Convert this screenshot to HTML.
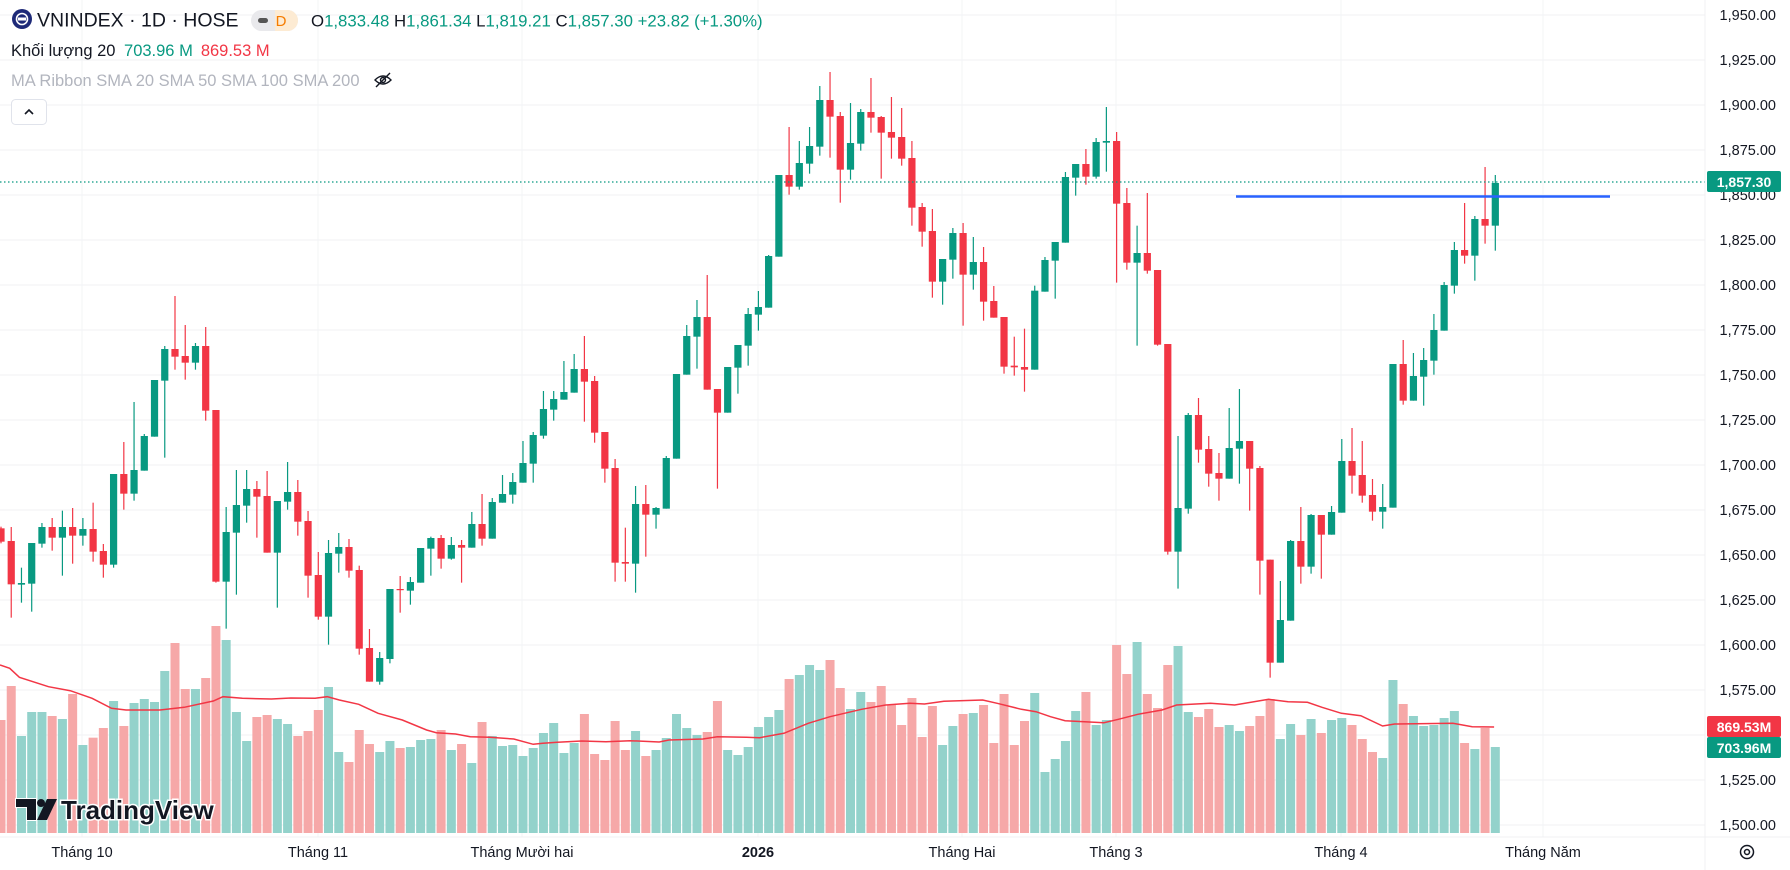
<!DOCTYPE html>
<html><head><meta charset="utf-8">
<style>
html,body{margin:0;padding:0;background:#fff;width:1790px;height:870px;overflow:hidden;font-family:"Liberation Sans","DejaVu Sans",sans-serif}
svg{display:block}
text{font-family:"Liberation Sans","DejaVu Sans",sans-serif}
</style></head><body>
<svg id="c" width="1790" height="870" viewBox="0 0 1790 870" xmlns="http://www.w3.org/2000/svg">
<g id="grid"></g>
<g id="vol"></g>
<polyline id="ma" fill="none" stroke="#f23645" stroke-width="1.5" points=""/>
<g id="cndl"></g>
<line x1="0" y1="182" x2="1705" y2="182" stroke="#089981" stroke-width="1.2" stroke-dasharray="1.5,2.5"/>
<line x1="1236" y1="196.5" x2="1610" y2="196.5" stroke="#2962ff" stroke-width="2.6"/>
<g id="axis"></g>
<!-- header -->
<circle cx="22" cy="19" r="10" fill="#1e2a78"/>
<circle cx="22" cy="19" r="5.5" fill="none" stroke="#fff" stroke-width="1.6"/>
<rect x="18" y="17.5" width="8" height="3" fill="#fff"/>
<text x="37" y="26.5" font-size="19.5" fill="#131722">VNINDEX · 1D · HOSE</text>
<rect x="251" y="10" width="47" height="21" rx="10.5" fill="#e9e9ec"/>
<path d="M275 10 h12.5 a10.5 10.5 0 0 1 0 21 h-12.5z" fill="#fdebd3"/>
<rect x="258" y="18" width="10" height="5" rx="2.5" fill="#555"/>
<text x="281" y="26" font-size="15" fill="#f57c00" text-anchor="middle">D</text>
<text x="311" y="26.5" font-size="16.8" fill="#131722">O<tspan fill="#089981">1,833.48</tspan> H<tspan fill="#089981">1,861.34</tspan> L<tspan fill="#089981">1,819.21</tspan> C<tspan fill="#089981">1,857.30</tspan> <tspan fill="#089981">+23.82 (+1.30%)</tspan></text>
<text x="11" y="56" font-size="16.5" fill="#131722">Khối lượng 20 <tspan fill="#089981" dx="4">703.96 M</tspan><tspan fill="#f23645" dx="8">869.53 M</tspan></text>
<text x="11" y="86" font-size="16.5" fill="#b2b5be">MA Ribbon SMA 20 SMA 50 SMA 100 SMA 200</text>
<g transform="translate(383,80)" stroke="#131722" stroke-width="1.4" fill="none">
<path d="M-8 0 Q0 -8 8 0 Q0 8 -8 0z"/><circle cx="0" cy="0" r="2.5"/><line x1="-7" y1="7" x2="7" y2="-7"/></g>
<rect x="11.5" y="99.5" width="35" height="25" rx="4" fill="#fff" stroke="#e0e3eb"/>
<path d="M25 114 l4 -4 l4 4" fill="none" stroke="#131722" stroke-width="1.6"/>
<!-- watermark -->
<g>
<path d="M16 799 h20 v21 h-9 v-13 h-11z" fill="#131722" stroke="#fff" stroke-width="2" paint-order="stroke"/>
<circle cx="41" cy="803" r="4" fill="#131722"/>
<path d="M47 799 h10 l-10 21 h-10z" fill="#131722"/>
<text x="61" y="819" font-size="26" font-weight="bold" fill="#131722" stroke="#fff" stroke-width="3" paint-order="stroke">TradingView</text>
</g>
</svg>
<script>
(function(){
var NS="http://www.w3.org/2000/svg";
function el(p,t,a,txt){var e=document.createElementNS(NS,t);for(var k in a)e.setAttribute(k,a[k]);if(txt!=null)e.textContent=txt;p.appendChild(e);return e;}
function Y(p){return 285+(1800-p)*1.8;}
var grid=document.getElementById('grid'),axis=document.getElementById('axis');
for(var p=1500;p<=1950;p+=25){var y=Y(p);el(grid,'line',{x1:0,y1:y,x2:1705,y2:y,stroke:'#f0f1f3','stroke-width':1});
 el(axis,'text',{x:1776,y:y+5,'font-size':14.5,fill:'#131722','text-anchor':'end'},p.toLocaleString('en-US')+'.00');}
var vx=[82,318,522,758,962,1116,1341,1543];
vx.forEach(function(x){el(grid,'line',{x1:x,y1:0,x2:x,y2:837,stroke:'#f3f4f6','stroke-width':1});});
var labs=['Tháng 10','Tháng 11','Tháng Mười hai','2026','Tháng Hai','Tháng 3','Tháng 4','Tháng Năm'];
labs.forEach(function(l,i){el(axis,'text',{x:vx[i],y:857,'font-size':14.5,fill:'#131722','text-anchor':'middle','font-weight':l=='2026'?'bold':'normal'},l);});
el(axis,'line',{x1:1705,y1:0,x2:1705,y2:870,stroke:'#f0f1f3'});
el(axis,'line',{x1:0,y1:837,x2:1790,y2:837,stroke:'#f0f1f3'});
var g=el(axis,'g',{transform:'translate(1747,852)'});
el(g,'circle',{cx:0,cy:0,r:6.5,fill:'none',stroke:'#131722','stroke-width':1.5});
el(g,'circle',{cx:0,cy:0,r:2.5,fill:'none',stroke:'#131722','stroke-width':1.5});
el(axis,'rect',{x:1707,y:171,width:74,height:21,rx:2,fill:'#089981'});
el(axis,'text',{x:1744,y:187,'font-size':14,'font-weight':'bold',fill:'#fff','text-anchor':'middle'},'1,857.30');
el(axis,'rect',{x:1707,y:716,width:74,height:21,rx:2,fill:'#f23645'});
el(axis,'text',{x:1744,y:732,'font-size':14,'font-weight':'bold',fill:'#fff','text-anchor':'middle'},'869.53M');
el(axis,'rect',{x:1707,y:737,width:74,height:21,rx:2,fill:'#089981'});
el(axis,'text',{x:1744,y:753,'font-size':14,'font-weight':'bold',fill:'#fff','text-anchor':'middle'},'703.96M');

var segs=[[280,[[745,785,740,790,0],[783,913,741,1013,0],[909,914,863,968,1],[789,911,789,995,1],[741,791,729,803,1],[741,773,714,812,0],[741,773,692,887,1],[741,767,684,851,0],[747,767,714,797,1],[747,815,668,845,0],[813,854,792,893,0],[582,854,582,863,1],[582,641,486,689,0],[570,641,366,662,1],[468,572,462,572,1],[300,470,300,470,1],[207,302,198,533,1],[207,230,48,269,0],[228,248,135,299,0],[198,248,189,269,1],[198,392,141,422,0],[390,905,390,908,0],[756,905,681,1046,1],[675,758,570,944,1],[627,677,570,728,1],[627,650,603,773,0],[648,818,573,818,0],[663,818,663,983,1],[636,665,546,689,1],[636,725,600,767,0],[723,887,693,953,0],[885,1010,816,1019,0],[819,1010,780,1094,1],[801,821,759,878,1],[801,872,777,893,0],[870,1106,857,1124,0],[1104,1205,1047,1205,0],[1134,1205,1116,1214,1]]],
[250,[[1017,1227,1017,1240,1],[1017,1020,978,1088,0],[996,1022,981,1064,1],[894,998,894,998,1],[864,896,860,977,1],[864,926,855,956,0],[885,926,861,929,1],[885,893,870,998,0],[822,893,786,893,1],[822,866,732,887,0],[756,866,744,866,1],[732,758,675,758,1],[696,734,669,761,1],[639,698,573,698,1],[555,641,546,698,1],[477,557,423,566,1],[447,479,423,512,1],[426,449,333,449,1],[357,428,312,428,1],[357,395,258,515,0],[393,548,378,578,0],[546,656,546,698,0],[654,938,627,995,0],[936,941,833,995,0],[762,941,708,1028,1],[762,794,705,920,0],[774,794,771,836,1],[624,776,618,776,1],[372,626,372,626,1],[258,374,225,374,1],[201,260,150,356,1],[201,419,75,419,0],[417,488,417,716,0],[351,488,351,488,1],[285,353,285,431,1],[192,287,174,347,1],[171,194,123,242,1]]],
[60,[[588,743,585,743,1],[345,590,345,590,1],[345,380,201,404,0],[309,380,243,389,1],[258,311,201,341,1],[120,260,78,287,1],[120,170,36,293,0],[168,329,156,428,0],[249,329,129,359,1],[156,251,147,272,1],[156,173,54,218,0],[171,218,168,356,0],[216,233,111,296,0],[231,296,144,317,0],[294,443,243,497,0],[441,515,429,560,0],[513,665,447,713,0],[597,665,597,734,1],[519,599,504,656,1],[519,644,489,797,0],[606,644,531,689,1],[606,725,561,782,0],[723,773,678,773,0],[771,920,771,941,0],[917,922,830,947,0],[921,929,806,995,0],[692,929,677,929,1],[600,695,591,695,1],[546,602,546,716,1],[351,548,336,548,1],[312,353,312,407,1],[312,350,267,374,0],[246,350,234,356,1],[243,248,141,335,1],[243,431,216,668,0],[429,608,384,629,0],[579,608,497,857,1]]],
[160,[[279,332,99,341,0],[330,554,330,557,0],[552,1175,552,1184,0],[1044,1175,828,1286,1],[765,1046,759,1061,1],[765,869,714,908,0],[867,941,828,980,0],[939,956,879,1022,0],[864,956,744,956,1],[843,866,687,971,1],[843,926,843,1052,0],[924,1202,918,1304,0],[1199,1508,1199,1553,0],[1380,1508,1263,1508,1],[1143,1382,1140,1382,1],[1143,1220,1041,1271,0],[1065,1220,1062,1241,1],[1065,1124,1065,1256,0],[1056,1124,1038,1124,1],[903,1058,837,1058,1],[903,947,804,1001,0],[945,1007,843,1028,0],[1005,1055,957,1082,0],[1041,1055,972,1106,1],[612,1043,612,1043,1],[612,722,540,734,0],[648,722,579,722,1],[600,650,564,737,1],[510,602,462,644,1],[375,512,366,512,1],[270,377,246,401,1],[270,287,129,311,0],[177,287,168,362,1],[177,197,21,251,0],[69,197,45,272,1]]]];
var C=[];segs.forEach(function(s){s[1].forEach(function(d){C.push([s[0]+d[0]/3,s[0]+d[1]/3,s[0]+d[2]/3,s[0]+d[3]/3,d[4]]);});});
var vols=[300,198,348,276,276,288,297,222,375,353,324,243,318,249,237,246,153,69,207,207,174,18,60,276,363,291,285,297,312,348,333,270,201,396,426,330,372,396,363,384,381,360,357,330,390,372,429,306,348,378,375,408,384,339,309,399,369,282,402,420,303,390,333,408,390,354,282,324,345,336,243,390,405,381,321,291,270,177,165,135,150,120,204,267,216,246,198,255,315,234,351,258,375,318,282,279,255,369,222,375,303,219,456,417,363,273,216,315,300,75,162,66,222,264,135,78,276,291,267,321,315,333,318,288,237,357,312,345,297,339,300,294,315,357,396,414,180,252,288,318,315,294,273,369,387,324,381];
var vg=document.getElementById('vol'),cg=document.getElementById('cndl');
C.forEach(function(c,i){
 var x=1+10.235*i,col=c[4]?'#089981':'#f23645';
 var vt=620+vols[i]/3;
 el(vg,'rect',{x:x-4.5,y:vt,width:9,height:833-vt,fill:c[4]?'#93d2cb':'#f6a8a8'});
 el(cg,'line',{x1:x,y1:c[2],x2:x,y2:c[3],stroke:col,'stroke-width':1.2});
 var h=Math.max(c[1]-c[0],1.2);
 el(cg,'rect',{x:x-3.6,y:c[0],width:7.2,height:h,fill:col});
});
var ma1=[[0,135],[20,145],[40,172],[100,200],[145,212],[190,235],[230,265],[260,270],[330,270],[380,262],[440,243],[460,230],[500,235],[560,237],[600,234],[650,235],[675,230],[700,240],[740,253],[780,280],[830,300],[880,330],[900,338],[940,342],[970,350],[1010,352],[1060,357],[1100,373],[1120,370],[1150,367],[1200,363],[1250,365],[1300,362],[1360,366],[1380,360],[1450,357],[1480,350],[1540,352]];
var ma2=[[20,353],[70,340],[120,310],[165,290],[230,268],[280,255],[330,250],[360,252],[400,244],[480,240],[510,250],[560,268],[590,275],[620,290],[650,302],[730,308],[760,298],[800,283],[850,270],[880,255],[950,250],[1000,255],[1070,238],[1110,245],[1150,247],[1180,262],[1220,280],[1260,287],[1305,318],[1330,312],[1450,310],[1490,320],[1535,321]];
var pts=[];ma1.forEach(function(q){pts.push((q[0]/2.063).toFixed(1)+','+(620+q[1]/3).toFixed(1));});
ma2.forEach(function(q){pts.push((750+q[0]/2.063).toFixed(1)+','+(620+q[1]/3).toFixed(1));});
document.getElementById('ma').setAttribute('points',pts.join(' '));
})();
</script>
</body></html>
